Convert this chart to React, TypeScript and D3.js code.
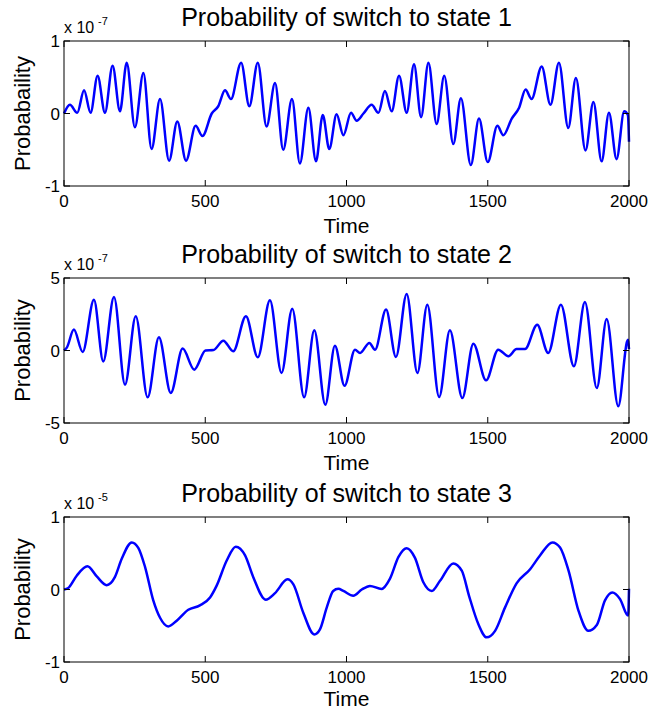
import React from "react";
import * as d3 from "d3";

const xTicks = [0, 500, 1000, 1500, 2000];

const titles = [
  "Probability of switch to state 1",
  "Probability of switch to state 2",
  "Probability of switch to state 3",
];
const yLabels = ["Probabaility", "Probability", "Probability"];
const exponents = ["-7", "-7", "-5"];
const yTicks1 = [-1, 0, 1];
const yTicks2 = [-5, 0, 5];
const yTicks3 = [-1, 0, 1];

const time1 = [0, 21, 47, 71, 94, 119, 145, 172, 198, 222, 251, 281, 310, 340, 372, 401, 432, 466, 490, 523, 546, 570, 591, 627, 656, 686, 717, 747, 776, 807, 835, 865, 892, 916, 939, 965, 989, 1016, 1036, 1060, 1089, 1113, 1136, 1160, 1186, 1213, 1239, 1264, 1290, 1319, 1346, 1378, 1405, 1440, 1469, 1500, 1534, 1555, 1585, 1611, 1634, 1655, 1691, 1722, 1752, 1785, 1812, 1846, 1874, 1903, 1929, 1956, 1983, 1996, 2000];
const value1 = [0, 0.12, 0.01, 0.32, 0.01, 0.52, 0.01, 0.66, 0.03, 0.7, -0.19, 0.56, -0.49, 0.2, -0.65, -0.11, -0.65, -0.17, -0.31, 0.0, 0.1, 0.32, 0.2, 0.7, 0.1, 0.7, -0.18, 0.42, -0.5, 0.2, -0.69, 0.08, -0.66, -0.02, -0.49, -0.01, -0.3, 0.01, -0.1, 0.0, 0.12, 0.01, 0.31, 0.03, 0.52, 0.01, 0.68, -0.05, 0.7, -0.145, 0.52, -0.42, 0.21, -0.71, -0.07, -0.67, -0.17, -0.3, -0.07, 0.08, 0.33, 0.2, 0.65, 0.12, 0.7, -0.2, 0.49, -0.51, 0.16, -0.66, 0.01, -0.63, 0.03, -0.02, -0.39];

const time2 = [0, 10, 35, 66, 106, 139, 177, 216, 254, 296, 336, 378, 420, 461, 501, 529, 564, 599, 644, 686, 729, 770, 808, 850, 886, 925, 959, 993, 1030, 1048, 1081, 1101, 1140, 1175, 1213, 1251, 1286, 1328, 1366, 1410, 1449, 1494, 1537, 1573, 1602, 1632, 1675, 1714, 1759, 1805, 1844, 1886, 1921, 1962, 1993, 1997, 2000];
const value2 = [0, 0.2, 1.44, -0.1, 3.5, -0.75, 3.69, -2.36, 2.36, -3.23, 0.91, -2.93, 0.13, -1.32, 0.0, 0.03, 0.68, -0.05, 2.36, -0.47, 3.46, -1.55, 2.88, -3.23, 1.39, -3.74, 0.33, -2.43, 0.06, -0.17, 0.52, 0.06, 2.82, -0.45, 3.9, -1.55, 3.16, -3.21, 1.39, -3.28, 0.47, -2.06, 0.06, -0.4, 0.1, 0.1, 1.78, -0.17, 3.16, -1.09, 3.34, -2.59, 2.17, -3.85, 0.6, 0.75, 0.1];

const time3 = [0, 15, 45, 83, 116, 151, 180, 204, 240, 263, 287, 316, 340, 369, 399, 440, 481, 517, 540, 576, 608, 641, 670, 714, 747, 791, 812, 847, 886, 906, 930, 953, 971, 989, 1024, 1054, 1083, 1124, 1154, 1184, 1213, 1242, 1272, 1302, 1331, 1378, 1408, 1434, 1467, 1496, 1526, 1561, 1602, 1650, 1685, 1729, 1756, 1786, 1821, 1856, 1886, 1915, 1941, 1968, 1997, 2000];
const value3 = [0, 0.02, 0.19, 0.32, 0.18, 0.06, 0.17, 0.42, 0.65, 0.575, 0.31, -0.15, -0.39, -0.51, -0.43, -0.28, -0.22, -0.11, 0.05, 0.4, 0.59, 0.47, 0.17, -0.14, -0.05, 0.14, 0.07, -0.32, -0.62, -0.55, -0.25, -0.02, 0.01, -0.02, -0.085, 0.0, 0.05, 0.007, 0.15, 0.45, 0.57, 0.44, 0.1, -0.02, 0.12, 0.36, 0.26, -0.09, -0.48, -0.66, -0.57, -0.25, 0.085, 0.28, 0.47, 0.65, 0.58, 0.26, -0.29, -0.57, -0.49, -0.15, -0.04, -0.13, -0.36, 0.01];

const FONT = "'Liberation Sans', Arial, Helvetica, sans-serif";
const LEFT = 64;
const RIGHT = 629;
const TOPS = [41, 278, 517];
const H = 145;
const TICK = 6;

type PanelProps = {
  top: number;
  title: string;
  ylabel: string;
  exp: string;
  yTicks: number[];
  times: number[];
  values: number[];
  timeY: number;
};

function Panel({ top, title, ylabel, exp, yTicks, times, values, timeY }: PanelProps) {
  const x = d3.scaleLinear().domain([0, 2000]).range([LEFT, RIGHT]);
  const y = d3
    .scaleLinear()
    .domain([yTicks[0], yTicks[yTicks.length - 1]])
    .range([top + H, top]);
  const line = d3
    .line<number>()
    .x((_, i) => x(times[i]))
    .y((d) => y(d))
    .curve(d3.curveMonotoneX);
  const bottom = top + H;
  const cx = (LEFT + RIGHT) / 2;
  return (
    <g>
      <path d={line(values) || ""} fill="none" stroke="#0000ff" strokeWidth={2.5} strokeLinejoin="round" />
      <rect x={LEFT} y={top} width={RIGHT - LEFT} height={H} fill="none" stroke="#000" strokeWidth={1} />
      {xTicks.map((t) => (
        <g key={"x" + t}>
          <line x1={x(t)} x2={x(t)} y1={bottom} y2={bottom - TICK} stroke="#000" />
          <line x1={x(t)} x2={x(t)} y1={top} y2={top + TICK} stroke="#000" />
          <text x={x(t)} y={bottom + 21} textAnchor="middle" fontSize={17} fontFamily={FONT}>
            {t}
          </text>
        </g>
      ))}
      {yTicks.map((t) => (
        <g key={"y" + t}>
          <line x1={LEFT} x2={LEFT + TICK} y1={y(t)} y2={y(t)} stroke="#000" />
          <line x1={RIGHT} x2={RIGHT - TICK} y1={y(t)} y2={y(t)} stroke="#000" />
          <text x={LEFT - 4} y={y(t) + 6} textAnchor="end" fontSize={17} fontFamily={FONT}>
            {t}
          </text>
        </g>
      ))}
      <text x={LEFT} y={top - 8} fontSize={16} fontFamily={FONT}>
        x 10
      </text>
      <text x={LEFT + 34} y={top - 16} fontSize={11} fontFamily={FONT}>
        {exp}
      </text>
      <text x={cx} y={top - 15.5} textAnchor="middle" fontSize={25} fontFamily={FONT}>
        {title}
      </text>
      <text x={cx} y={timeY} textAnchor="middle" fontSize={21} fontFamily={FONT}>
        Time
      </text>
      <text
        transform={`translate(30,${top + H / 2}) rotate(-90)`}
        textAnchor="middle"
        fontSize={22}
        fontFamily={FONT}
      >
        {ylabel}
      </text>
    </g>
  );
}

export default function App() {
  const series = [
    { times: time1, values: value1, yTicks: yTicks1 },
    { times: time2, values: value2, yTicks: yTicks2 },
    { times: time3, values: value3, yTicks: yTicks3 },
  ];
  return (
    <svg
      width={652}
      height={712}
      style={{ position: "absolute", left: 0, top: 0, background: "#fff" }}
    >
      <rect width={652} height={712} fill="#fff" />
      {series.map((s, i) => (
        <Panel
          key={i}
          top={TOPS[i]}
          title={titles[i]}
          ylabel={yLabels[i]}
          exp={exponents[i]}
          yTicks={s.yTicks}
          times={s.times}
          values={s.values}
          timeY={Math.min(TOPS[i] + H + 47, 706)}
        />
      ))}
    </svg>
  );
}
